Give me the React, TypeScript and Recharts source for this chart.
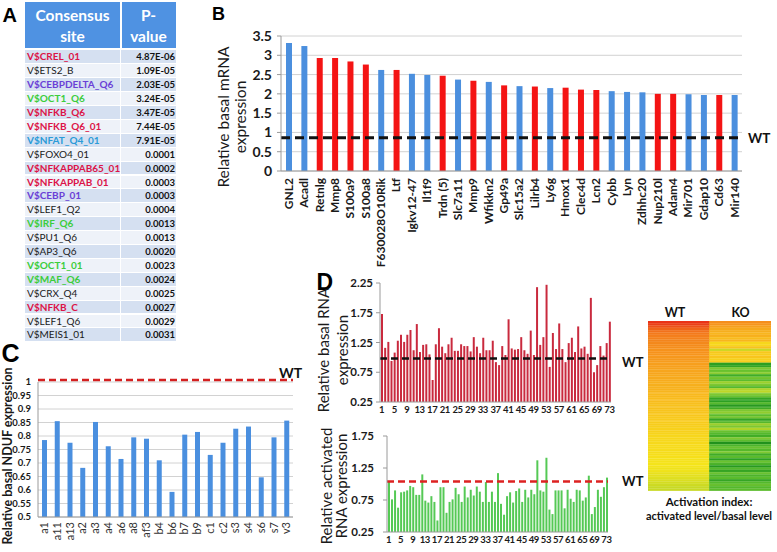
import React from 'react'
import { BarChart, Bar, XAxis, YAxis, CartesianGrid, ReferenceLine, Cell } from 'recharts'

const FONT = 'Lato, "Open Sans", sans-serif'
const LETTER_FONT = '"Liberation Sans", Arial, sans-serif'

// ---- panel A: consensus sites
const siteNames = [
  'V$CREL_01', 'V$ETS2_B', 'V$CEBPDELTA_Q6', 'V$OCT1_Q6', 'V$NFKB_Q6', 'V$NFKB_Q6_01', 'V$NFAT_Q4_01',
  'V$FOXO4_01', 'V$NFKAPPAB65_01', 'V$NFKAPPAB_01', 'V$CEBP_01', 'V$LEF1_Q2', 'V$IRF_Q6', 'V$PU1_Q6',
  'V$AP3_Q6', 'V$OCT1_01', 'V$MAF_Q6', 'V$CRX_Q4', 'V$NFKB_C', 'V$LEF1_Q6', 'V$MEIS1_01',
]
const sitePValues = [
  '4.87E-06', '1.09E-05', '2.03E-05', '3.24E-05', '3.47E-05', '7.44E-05', '7.91E-05',
  '0.0001', '0.0002', '0.0003', '0.0003', '0.0004', '0.0013', '0.0013',
  '0.0020', '0.0023', '0.0024', '0.0025', '0.0027', '0.0029', '0.0031',
]
const siteFamily = [
  'rel', 'other', 'cebp', 'oct', 'rel', 'rel', 'nfat',
  'other', 'rel', 'rel', 'cebp', 'other', 'oct', 'other',
  'other', 'oct', 'oct', 'other', 'rel', 'other', 'other',
]

const FAMILY_COLORS: Record<string, string> = {
  rel: '#dc1448',
  cebp: '#6a3fd6',
  oct: '#3ccd3c',
  nfat: '#2b9bd8',
  other: '#1a1a1a',
}

// ---- panel B: top genes
const geneNames = [
  'GNL2', 'Acadl', 'Retnlg', 'Mmp8', 'S100a9', 'S100a8', 'F630028O10Rik', 'Ltf', 'Igkv12-47', 'Il1f9',
  'Trdn (5)', 'Slc7a11', 'Mmp9', 'Wfikkn2', 'Gp49a', 'Slc15a2', 'Lilrb4', 'Ly6g', 'Hmox1', 'Clec4d',
  'Lcn2', 'Cybb', 'Lyn', 'Zdhhc20', 'Nup210l', 'Adam4', 'Mir701', 'Gdap10', 'Cd63', 'Mir140',
]
const geneExpression = [
  3.32, 3.24, 2.93, 2.93, 2.84, 2.76, 2.62, 2.62, 2.52, 2.49,
  2.47, 2.37, 2.34, 2.31, 2.22, 2.2, 2.19, 2.15, 2.16, 2.11,
  2.1, 2.07, 2.05, 2.04, 2.0, 2.0, 1.99, 1.97, 1.97, 1.97,
]
const geneGroup = [
  'b', 'b', 'r', 'r', 'r', 'r', 'b', 'r', 'b', 'b',
  'r', 'b', 'r', 'b', 'r', 'b', 'r', 'b', 'r', 'r',
  'r', 'b', 'b', 'b', 'r', 'r', 'b', 'b', 'r', 'b',
]
const geneTicks = [0, 0.5, 1, 1.5, 2, 2.5, 3, 3.5]
const geneWT = 0.86

// ---- panel C: NDUF genes
const ndufGenes = ['a1', 'a11', 'a13', 'a2', 'a3', 'a4', 'a6', 'a8', 'af3', 'b4', 'b6', 'b7', 'b9', 'c1', 'c2', 's3', 's4', 's6', 's7', 'v3']
const ndufExpression = [
  0.785, 0.855, 0.775, 0.682, 0.852, 0.762, 0.715, 0.795, 0.79, 0.71,
  0.593, 0.805, 0.815, 0.73, 0.775, 0.827, 0.835, 0.647, 0.795, 0.857,
]
const ndufTicks = [0.5, 0.55, 0.6, 0.65, 0.7, 0.75, 0.8, 0.85, 0.9, 0.95, 1]

// ---- panel D: 73 genes, basal and activated
const basalRna = [
  1.73, 1.16, 1.26, 0.94, 1.08, 1.28, 1.38, 1.26, 1.38, 1.46,
  1.12, 1.56, 1.09, 1.21, 1.22, 1.05, 0.62, 1.22, 1.49, 1.18,
  1.07, 1.22, 1.33, 1.11, 1.11, 1.22, 1.19, 1.19, 1.1, 1.34,
  1.18, 1.07, 1.33, 1.12, 1.12, 1.28, 0.92, 0.87, 1.19, 1.04,
  1.64, 1.15, 1.13, 1.14, 1.34, 1.12, 1.06, 1.45, 1.04, 2.18,
  1.21, 1.34, 2.22, 0.84, 1.41, 1.14, 1.57, 1.14, 0.92, 1.24,
  1.33, 1.09, 1.52, 1.15, 1.18, 1.06, 2.0, 0.75, 0.87, 1.19,
  1.03, 1.24, 1.6,
]
const activatedRna = [
  1.04, 0.76, 0.9, 0.63, 0.87, 0.88, 0.9, 0.97, 0.95, 0.83,
  0.83, 1.15, 0.74, 0.71, 0.81, 0.72, 0.43, 0.95, 0.95, 0.55,
  0.72, 0.76, 0.94, 0.84, 0.72, 0.96, 0.79, 0.91, 0.82, 0.96,
  0.88, 0.72, 1.03, 0.72, 0.88, 0.72, 1.17, 0.69, 0.52, 0.81,
  0.87, 0.71, 0.89, 0.93, 0.72, 0.91, 0.79, 0.91, 0.84, 1.37,
  0.9, 0.88, 1.41, 0.6, 0.53, 0.9, 0.9, 0.9, 0.62, 0.91,
  0.77, 0.72, 0.91, 0.9, 0.74, 0.79, 1.13, 0.53, 0.64, 0.91,
  0.8, 0.95, 1.1,
]
const basalTicks = [0.25, 0.75, 1.25, 1.75, 2.25]
const activatedTicks = [0.25, 0.75, 1.25, 1.75]
const basalWT = 0.98
const activatedWT = 1.04

// ---- heatmap: activation index (0 = low/green, 1 = high/red)
const wtActivation = [
  0.98, 0.96, 0.93, 0.9, 0.88, 0.86, 0.85, 0.84, 0.83, 0.82,
  0.81, 0.8, 0.79, 0.79, 0.78, 0.77, 0.77, 0.76, 0.75, 0.75,
  0.74, 0.73, 0.73, 0.72, 0.72, 0.71, 0.7, 0.7, 0.69, 0.69,
  0.68, 0.67, 0.67, 0.66, 0.66, 0.65, 0.64, 0.64, 0.63, 0.63,
  0.62, 0.61, 0.61, 0.6, 0.6, 0.59, 0.58, 0.58, 0.57, 0.56,
  0.56, 0.55, 0.55, 0.54, 0.54, 0.53, 0.53, 0.52, 0.52, 0.51,
  0.51, 0.5, 0.5, 0.49, 0.49, 0.48, 0.47, 0.46, 0.45, 0.44,
  0.43, 0.42, 0.42,
]
const koActivation = [
  0.8, 0.78, 0.75, 0.72, 0.7, 0.68, 0.7, 0.66, 0.68, 0.55,
  0.56, 0.64, 0.42, 0.62, 0.6, 0.63, 0.58, 0.6, 0.1, 0.12,
  0.3, 0.25, 0.32, 0.15, 0.28, 0.22, 0.35, 0.3, 0.2, 0.38,
  0.4, 0.3, 0.25, 0.12, 0.1, 0.2, 0.08, 0.15, 0.3, 0.33,
  0.22, 0.28, 0.12, 0.2, 0.35, 0.3, 0.38, 0.25, 0.2, 0.15,
  0.3, 0.22, 0.05, 0.18, 0.25, 0.2, 0.3, 0.15, 0.22, 0.1,
  0.25, 0.18, 0.08, 0.2, 0.12, 0.25, 0.18, 0.22, 0.12, 0.2,
  0.25, 0.2, 0.22,
]

const HEAT_STOPS: [number, number[]][] = [
  [0, [20, 130, 25]],
  [0.1, [45, 160, 35]],
  [0.2, [85, 185, 45]],
  [0.3, [125, 200, 50]],
  [0.4, [190, 215, 40]],
  [0.5, [245, 228, 28]],
  [0.62, [248, 200, 30]],
  [0.75, [247, 160, 30]],
  [0.87, [243, 120, 28]],
  [1, [232, 40, 25]],
]

function heatColor(v: number) {
  for (let i = 1; i < HEAT_STOPS.length; i++) {
    const [p1, c1] = HEAT_STOPS[i]
    const [p0, c0] = HEAT_STOPS[i - 1]
    if (v <= p1) {
      const t = (v - p0) / (p1 - p0)
      const c = c0.map((x, k) => Math.round(x + (c1[k] - x) * t))
      return `rgb(${c[0]},${c[1]},${c[2]})`
    }
  }
  return 'rgb(232,40,25)'
}

const AXIS = '#9a9a9a'
const GRID = '#d2d2d2'

function RotTick(props: any) {
  const { x, y, payload, fontSize, fontWeight, fill } = props
  return (
    <text
      x={x}
      y={y}
      transform={`rotate(-90 ${x} ${y})`}
      textAnchor="end"
      dy="0.35em"
      fontSize={fontSize}
      fontWeight={fontWeight}
      fill={fill}
      fontFamily={FONT}
    >
      {payload.value}
    </text>
  )
}

function IndexTick(props: any) {
  const { x, y, payload } = props
  return (
    <text x={x} y={y} dy="0.75em" textAnchor="middle" fontSize={9.5} fontWeight={700} fill="#1a1a1a" fontFamily={FONT} letterSpacing={-0.4}>
      {payload.value}
    </text>
  )
}

function VLabel({ cx, cy, size, weight = 400, children }: any) {
  return (
    <text
      x={cx}
      y={cy}
      transform={`rotate(-90 ${cx} ${cy})`}
      textAnchor="middle"
      dominantBaseline="central"
      fontSize={size}
      fontWeight={weight}
      fill="#1a1a1a"
      fontFamily={FONT}
    >
      {children}
    </text>
  )
}

function PanelA() {
  const rowH = 13.9
  return (
    <div style={{ position: 'absolute', left: 25, top: 2, width: 151 }}>
      <div style={{ position: 'absolute', left: 0, top: 0, width: 151, height: 46, background: '#4f92e2' }} />
      <div style={{ position: 'absolute', left: 95, top: 0, width: 1.5, height: 46, background: '#fff' }} />
      <div style={{ position: 'absolute', left: 0, top: 3, width: 95, textAlign: 'center', color: '#fff', fontWeight: 700, fontSize: 15.5, lineHeight: '21px' }}>
        Consensus
        <br />
        site
      </div>
      <div style={{ position: 'absolute', left: 96, top: 3, width: 55, textAlign: 'center', color: '#fff', fontWeight: 700, fontSize: 15.5, lineHeight: '21px' }}>
        P-
        <br />
        value
      </div>
      {siteNames.map((name, i) => {
        const fam = siteFamily[i]
        const bg = i % 2 === 0 ? '#d5e0f1' : '#eef2f9'
        const top = 48.4 + i * rowH
        return (
          <React.Fragment key={name}>
            <div style={{ position: 'absolute', left: 0, top, width: 95, height: rowH - 1, background: bg }} />
            <div style={{ position: 'absolute', left: 96, top, width: 55, height: rowH - 1, background: bg }} />
            <div
              style={{
                position: 'absolute', left: 2, top, height: rowH, lineHeight: `${rowH}px`, fontSize: 10,
                fontWeight: fam === 'other' ? 400 : 700, color: FAMILY_COLORS[fam], whiteSpace: 'nowrap',
              }}
            >
              {name}
            </div>
            <div
              style={{
                position: 'absolute', left: 96, top, width: 54, height: rowH, lineHeight: `${rowH}px`, fontSize: 9.5,
                fontWeight: 700, color: '#111', textAlign: 'right',
              }}
            >
              {sitePValues[i]}
            </div>
          </React.Fragment>
        )
      })}
    </div>
  )
}

function PanelB() {
  const data = geneNames.map((name, i) => ({ name, value: geneExpression[i] }))
  return (
    <div style={{ position: 'absolute', left: 200, top: 0 }}>
      <BarChart width={577} height={270} data={data} margin={{ top: 36, right: 35, bottom: 4, left: 41 }} barCategoryGap={0}>
        <CartesianGrid vertical={false} stroke={GRID} />
        <XAxis
          dataKey="name"
          height={95}
          interval={0}
          tickLine={false}
          tickSize={0}
          tickMargin={7}
          axisLine={{ stroke: AXIS }}
          tick={<RotTick fontSize={12} fontWeight={700} fill="#1a1a1a" />}
        />
        <YAxis
          width={40}
          domain={[0, 3.5]}
          ticks={geneTicks}
          interval={0}
          tickSize={4}
          tickMargin={5}
          axisLine={{ stroke: AXIS }}
          tickLine={{ stroke: AXIS }}
          tick={{ fontSize: 14, fontWeight: 700, fill: '#1a1a1a', fontFamily: FONT }}
        />
        <Bar dataKey="value" barSize={6} isAnimationActive={false}>
          {data.map((d, i) => (
            <Cell key={d.name} fill={geneGroup[i] === 'r' ? '#f41414' : '#4b8fde'} />
          ))}
        </Bar>
        <ReferenceLine y={geneWT} stroke="#111" strokeWidth={3} strokeDasharray="9 5" />
      </BarChart>
    </div>
  )
}

function PanelC() {
  const data = ndufGenes.map((name, i) => ({ name, value: ndufExpression[i] }))
  return (
    <div style={{ position: 'absolute', left: 0, top: 340 }}>
      <BarChart width={320} height={212} data={data} margin={{ top: 42, right: 27, bottom: 4, left: 8 }} barCategoryGap={0}>
        <CartesianGrid vertical={false} stroke={GRID} />
        <XAxis
          dataKey="name"
          height={31}
          interval={0}
          tickLine={false}
          tickSize={0}
          tickMargin={5}
          axisLine={{ stroke: AXIS }}
          tick={<RotTick fontSize={11} fontWeight={400} fill="#333" />}
        />
        <YAxis
          width={30}
          domain={[0.5, 1]}
          ticks={ndufTicks}
          interval={0}
          tickLine={false}
          tickSize={0}
          tickMargin={7}
          axisLine={{ stroke: AXIS }}
          tick={{ fontSize: 9.5, fontWeight: 700, fill: '#1a1a1a', fontFamily: FONT }}
        />
        <Bar dataKey="value" barSize={5} fill="#4a8fdf" isAnimationActive={false} />
        <ReferenceLine y={1.007} ifOverflow="visible" stroke="#d42020" strokeWidth={2.5} strokeDasharray="7 4" />
      </BarChart>
    </div>
  )
}

function GeneBars({ values, ticks, domain, wt, wtColor, fill, width, height, margin, yTickMargin }: any) {
  const data = values.map((v: number, i: number) => ({ idx: i + 1, value: v }))
  return (
    <BarChart width={width} height={height} data={data} margin={margin} barCategoryGap={0}>
      <XAxis xAxisId="marks" dataKey="idx" height={0} interval={0} tick={false} tickSize={3} tickLine={{ stroke: '#bbb' }} axisLine={false} />
      <XAxis
        dataKey="idx"
        height={16}
        interval={3}
        tickLine={false}
        tickSize={0}
        tickMargin={4}
        axisLine={{ stroke: AXIS }}
        tick={<IndexTick />}
      />
      <YAxis
        width={38}
        domain={domain}
        ticks={ticks}
        interval={0}
        tickSize={4}
        tickMargin={yTickMargin}
        axisLine={{ stroke: AXIS }}
        tickLine={{ stroke: AXIS }}
        tick={{ fontSize: 11.5, fontWeight: 700, fill: '#1a1a1a', fontFamily: FONT }}
      />
      <Bar dataKey="value" barSize={2} fill={fill} isAnimationActive={false} />
      <ReferenceLine y={wt} stroke={wtColor} strokeWidth={2.5} strokeDasharray="7 4" />
    </BarChart>
  )
}

function PanelD() {
  return (
    <>
      <div style={{ position: 'absolute', left: 300, top: 260 }}>
        <GeneBars
          values={basalRna}
          ticks={basalTicks}
          domain={[0.25, 2.25]}
          wt={basalWT}
          wtColor="#111"
          fill="#c92a3e"
          width={330}
          height={160}
          margin={{ top: 23, right: 19, bottom: 2, left: 42 }}
          yTickMargin={3}
        />
      </div>
      <div style={{ position: 'absolute', left: 300, top: 420 }}>
        <GeneBars
          values={activatedRna}
          ticks={activatedTicks}
          domain={[0.25, 1.75]}
          wt={activatedWT}
          wtColor="#dd2222"
          fill="#55c955"
          width={330}
          height={132}
          margin={{ top: 16, right: 22, bottom: 4, left: 49 }}
          yTickMargin={9}
        />
      </div>
    </>
  )
}

function Heatmap() {
  const rows = wtActivation.map((_, i) => ({ row: i + 1, wt: 1, ko: 1 }))
  return (
    <div style={{ position: 'absolute', left: 648, top: 321 }}>
      <BarChart layout="vertical" width={123} height={170} data={rows} margin={{ top: 0, right: 0, bottom: 0, left: 0 }} barCategoryGap={0}>
        <XAxis type="number" hide domain={[0, 2]} />
        <YAxis type="category" dataKey="row" hide />
        <Bar dataKey="wt" stackId="h" isAnimationActive={false}>
          {wtActivation.map((v, i) => (
            <Cell key={i} fill={heatColor(v)} stroke={heatColor(v)} strokeWidth={0.6} />
          ))}
        </Bar>
        <Bar dataKey="ko" stackId="h" isAnimationActive={false}>
          {koActivation.map((v, i) => (
            <Cell key={i} fill={heatColor(v)} stroke={heatColor(v)} strokeWidth={0.6} />
          ))}
        </Bar>
      </BarChart>
    </div>
  )
}

function Labels() {
  const bold = { fontFamily: FONT, fontWeight: 700, fill: '#111' } as const
  return (
    <svg width={777} height={552} style={{ position: 'absolute', left: 0, top: 0, pointerEvents: 'none' }}>
      <text x={2.5} y={21.7} fontSize={20} fontWeight={700} fontFamily={LETTER_FONT}>A</text>
      <text x={212} y={20.3} fontSize={18} fontWeight={700} fontFamily={LETTER_FONT}>B</text>
      <text x={1.5} y={362} fontSize={25} fontWeight={700} fontFamily={LETTER_FONT}>C</text>
      <text x={316.5} y={290} fontSize={23} fontWeight={700} fontFamily={LETTER_FONT}>D</text>

      <VLabel cx={222.5} cy={117} size={15.5}>Relative basal mRNA</VLabel>
      <VLabel cx={240} cy={117} size={15.5}>expression</VLabel>
      <text x={748} y={142.7} fontSize={13.5} {...bold}>WT</text>

      <VLabel cx={7.5} cy={456} size={12.5} weight={700}>Relative basal NDUF expression</VLabel>
      <text x={279} y={378} fontSize={14} {...bold}>WT</text>

      <VLabel cx={323} cy={350} size={15}>Relative basal RNA</VLabel>
      <VLabel cx={341.5} cy={350} size={15}>expression</VLabel>
      <text x={622} y={366.5} fontSize={13} {...bold}>WT</text>

      <VLabel cx={325.5} cy={486} size={15}>Relative activated</VLabel>
      <VLabel cx={340.5} cy={486} size={15}>RNA expression</VLabel>
      <text x={622} y={485.5} fontSize={13} {...bold}>WT</text>

      <text x={675} y={316.5} fontSize={12.5} textAnchor="middle" {...bold}>WT</text>
      <text x={740.5} y={316.5} fontSize={12.5} textAnchor="middle" {...bold}>KO</text>
      <text x={709} y={505.5} fontSize={11.5} textAnchor="middle" {...bold}>Activation index:</text>
      <text x={709} y={519.5} fontSize={11} textAnchor="middle" {...bold}>activated level/basal level</text>
    </svg>
  )
}

export default function App() {
  return (
    <div
      style={{
        position: 'absolute', left: 0, top: 0, width: 777, height: 552, background: '#fff',
        fontFamily: FONT, overflow: 'hidden',
      }}
    >
      <PanelA />
      <PanelB />
      <PanelC />
      <PanelD />
      <Heatmap />
      <Labels />
    </div>
  )
}
